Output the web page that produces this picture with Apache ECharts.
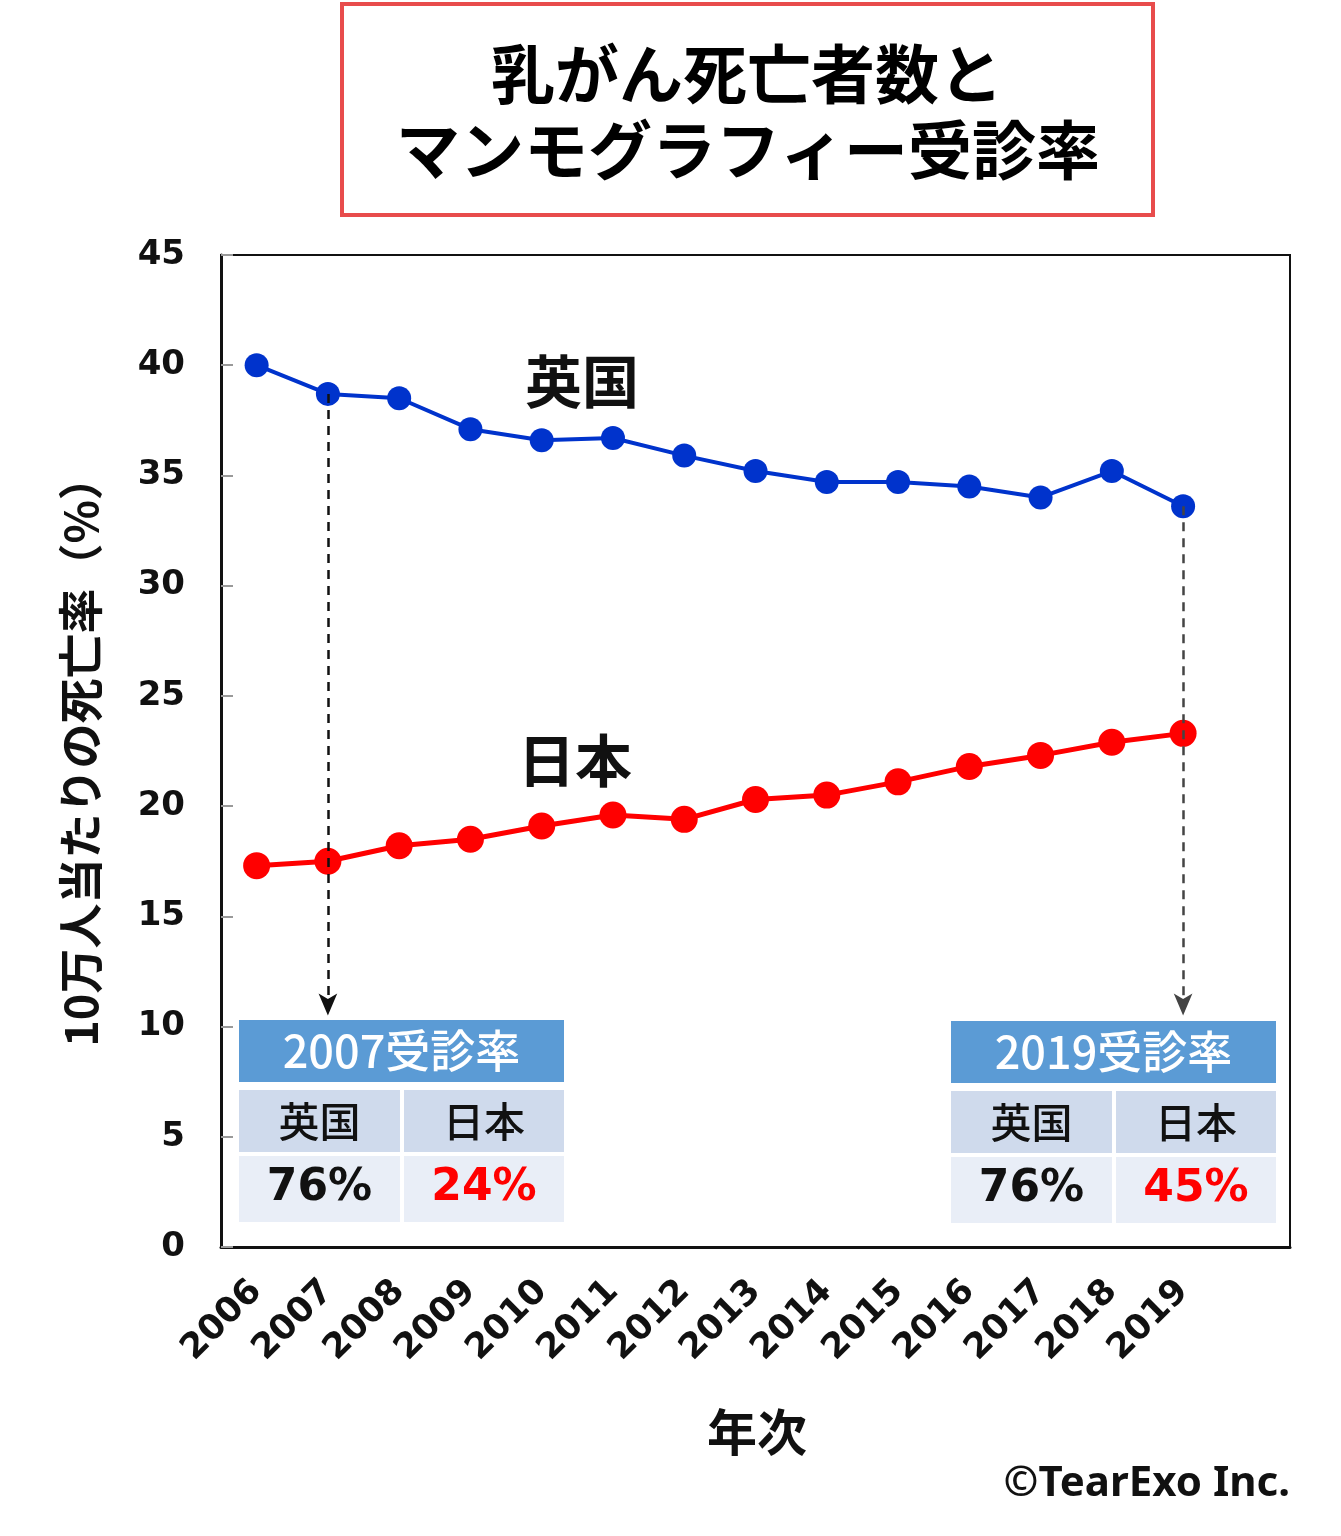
<!DOCTYPE html>
<html>
<head>
<meta charset="utf-8">
<script src="https://cdn.jsdelivr.net/npm/echarts@6/dist/echarts.min.js"></script>
<style>
html,body{margin:0;padding:0;background:#fff;}
#chart{width:1341px;height:1536px;}
</style>
</head>
<body>
<div id="chart"></div>
<script>
// ---- data ----
const years = ['2006','2007','2008','2009','2010','2011','2012','2013','2014','2015','2016','2017','2018','2019'];
const ukRate = [40.0, 38.7, 38.5, 37.1, 36.6, 36.7, 35.9, 35.2, 34.7, 34.7, 34.5, 34.0, 35.2, 33.6];
const jpRate = [17.3, 17.5, 18.2, 18.5, 19.1, 19.6, 19.4, 20.3, 20.5, 21.1, 21.8, 22.3, 22.9, 23.3];
const yTicks = [0, 5, 10, 15, 20, 25, 30, 35, 40, 45];
const arrowEndValue = 10.5;
const screening2007 = { title: '2007受診率', uk: '76%', jp: '24%' };
const screening2019 = { title: '2019受診率', uk: '76%', jp: '45%' };

const CJK = '"Noto Sans CJK JP", "Noto Sans", sans-serif';
const NUM = '"DejaVu Sans", Verdana, sans-serif';

const cats = years.concat(['']);

function table(x, y, info) {
  const w = 325, colW = 161;
  return {
    type: 'group', x: x, y: y, silent: true,
    children: [
      { type: 'rect', shape: { x: 0, y: 0, width: w, height: 62 }, style: { fill: '#5B9BD5' } },
      { type: 'text', x: w / 2, y: 31, style: { text: info.title, fill: '#fff', font: '500 45px ' + CJK, align: 'center', verticalAlign: 'middle' } },
      { type: 'rect', shape: { x: 0, y: 70, width: colW, height: 62 }, style: { fill: '#CFDAEC' } },
      { type: 'rect', shape: { x: colW + 4, y: 70, width: w - colW - 4, height: 62 }, style: { fill: '#CFDAEC' } },
      { type: 'rect', shape: { x: 0, y: 136, width: colW, height: 66 }, style: { fill: '#E9EEF7' } },
      { type: 'rect', shape: { x: colW + 4, y: 136, width: w - colW - 4, height: 66 }, style: { fill: '#E9EEF7' } },
      { type: 'text', x: colW / 2, y: 101, style: { text: '英国', fill: '#111', font: '500 41px ' + CJK, align: 'center', verticalAlign: 'middle' } },
      { type: 'text', x: colW + 4 + (w - colW - 4) / 2, y: 101, style: { text: '日本', fill: '#111', font: '500 41px ' + CJK, align: 'center', verticalAlign: 'middle' } },
      { type: 'text', x: colW / 2, y: 169, style: { text: info.uk, fill: '#111', font: 'bold 44px ' + NUM, align: 'center', verticalAlign: 'middle' } },
      { type: 'text', x: colW + 4 + (w - colW - 4) / 2, y: 169, style: { text: info.jp, fill: '#FF0000', font: 'bold 44px ' + NUM, align: 'center', verticalAlign: 'middle' } }
    ]
  };
}

const chart = echarts.init(document.getElementById('chart'));
chart.setOption({
  animation: false,
  backgroundColor: '#fff',
  grid: { left: 221, top: 255, right: 51, bottom: 289, show: true, borderColor: '#111', borderWidth: 2, backgroundColor: 'transparent' },
  xAxis: {
    type: 'category', data: cats, boundaryGap: true,
    axisLine: { show: true, lineStyle: { color: '#111', width: 3 } },
    axisTick: { show: false },
    axisLabel: { interval: 0, rotate: 45, margin: 39, color: '#111', fontFamily: NUM, fontWeight: 'bold', fontSize: 35 },
    splitLine: { show: false }
  },
  yAxis: {
    type: 'value', min: yTicks[0], max: yTicks[yTicks.length - 1], interval: 5,
    axisLine: { show: true, lineStyle: { color: '#111', width: 3 } },
    axisTick: { show: true, inside: true, length: 12, lineStyle: { color: '#999', width: 2 } },
    axisLabel: { margin: 36, color: '#111', fontFamily: NUM, fontWeight: 'bold', fontSize: 34 },
    splitLine: { show: false },
    name: '10万人当たりの死亡率（%）', nameLocation: 'middle', nameGap: 118, nameRotate: 90,
    nameTextStyle: { color: '#111', fontFamily: CJK, fontWeight: 'bold', fontSize: 45 }
  },
  series: [
    {
      name: '英国', type: 'line', data: ukRate,
      symbol: 'circle', symbolSize: 24,
      lineStyle: { color: '#0033CC', width: 4 },
      itemStyle: { color: '#0033CC' },
      z: 3,
      markLine: {
        silent: true, symbol: ['none', 'arrow'], symbolSize: [14, 22], label: { show: false },
        lineStyle: { type: [9, 7], width: 2.5, color: '#111' },
        data: [
          [{ coord: [years[1], ukRate[1]] }, { coord: [years[1], arrowEndValue] }],
          [{ coord: [years[13], ukRate[13]], lineStyle: { color: '#444' } }, { coord: [years[13], arrowEndValue], lineStyle: { color: '#444' } }]
        ]
      }
    },
    {
      name: '日本', type: 'line', data: jpRate,
      symbol: 'circle', symbolSize: 27,
      lineStyle: { color: '#FF0000', width: 5 },
      itemStyle: { color: '#FF0000' },
      z: 4
    }
  ],
  graphic: [
    { type: 'rect', shape: { x: 342, y: 4, width: 811, height: 211 }, style: { fill: '#fff', stroke: '#E84C4C', lineWidth: 4 }, silent: true },
    { type: 'text', x: 747, y: 74, style: { text: '乳がん死亡者数と', fill: '#000', font: 'bold 64px ' + CJK, align: 'center', verticalAlign: 'middle' } },
    { type: 'text', x: 748, y: 150, style: { text: 'マンモグラフィー受診率', fill: '#000', font: 'bold 64px ' + CJK, align: 'center', verticalAlign: 'middle' } },
    { type: 'text', x: 582, y: 381, style: { text: '英国', fill: '#111', font: 'bold 57px ' + CJK, align: 'center', verticalAlign: 'middle' } },
    { type: 'text', x: 575, y: 760, style: { text: '日本', fill: '#111', font: 'bold 57px ' + CJK, align: 'center', verticalAlign: 'middle' } },
    table(239, 1020, screening2007),
    table(951, 1021, screening2019),
    { type: 'text', x: 757, y: 1432, style: { text: '年次', fill: '#111', font: 'bold 50px ' + CJK, align: 'center', verticalAlign: 'middle' } },
    { type: 'text', x: 1290, y: 1484, style: { text: '©TearExo Inc.', fill: '#111', font: 'bold 42px "Noto Sans", sans-serif', align: 'right', verticalAlign: 'middle' } }
  ]
});
</script>
</body>
</html>
